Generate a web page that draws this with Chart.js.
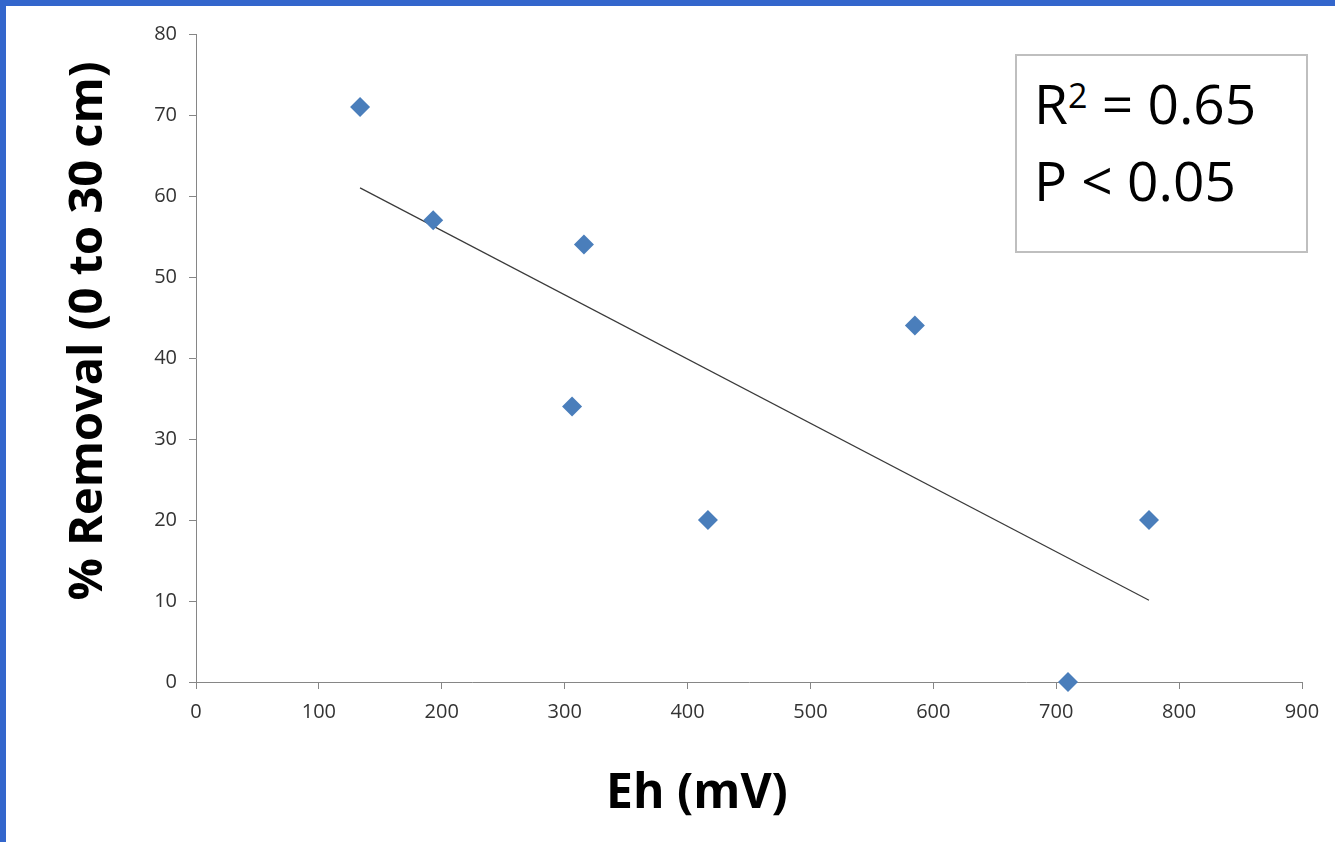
<!DOCTYPE html>
<html>
<head>
<meta charset="utf-8">
<script src="https://cdn.jsdelivr.net/npm/chart.js@4"></script>
<style>
  html, body { margin: 0; padding: 0; background: #ffffff; }
  body { width: 1335px; height: 842px; position: relative; overflow: hidden; }
  #wrap { position: absolute; left: 0; top: 0; width: 1335px; height: 842px; }
  #frame { position: absolute; left: 0; top: 0; width: 1335px; height: 842px; box-sizing: border-box;
           border-top: 6px solid #3366cc; border-left: 6px solid #3366cc; pointer-events: none; }
  .axtitle { position: absolute; font-family: "Open Sans", sans-serif; font-weight: 700; color: #000;
             white-space: nowrap; line-height: 1; }
  #ytitle { left: 84px; top: 331px; transform: translate(-50%, -50%) rotate(-90deg); font-size: 47px; }
  #xtitle { left: 697px; top: 790px; transform: translate(-50%, -50%); font-size: 48px; }
  #stats { position: absolute; left: 1015px; top: 54px; width: 293px; height: 199px; box-sizing: border-box;
           border: 2px solid #bfbfbf; background: #fff; font-family: "Open Sans", sans-serif;
           font-size: 55px; color: #000; padding: 8px 0 0 17px; line-height: 77px; white-space: nowrap; }
  #stats sup { font-size: 0.62em; line-height: 0; vertical-align: 0.46em; }
</style>
</head>
<body>
<div id="wrap"><canvas id="c" width="1335" height="842"></canvas></div>
<div id="frame"></div>
<div id="ytitle" class="axtitle">% Removal (0 to 30 cm)</div>
<div id="xtitle" class="axtitle">Eh (mV)</div>
<div id="stats"><div>R<sup>2</sup> = 0.65</div><div>P &lt; 0.05</div></div>
<script>
// ---- data ----
const ehValues = [133.5, 193, 315.7, 306, 416.6, 585, 709.6, 775.5];
const removalValues = [71, 57, 54, 34, 20, 44, 0, 20];
const trendEh = [133.5, 775.5];
const trendRemoval = [61.0, 10.1];
const xTickRange = [0, 900, 100];
const yTickRange = [0, 80, 10];

const points = ehValues.map((x, i) => ({ x: x, y: removalValues[i] }));
const trend = trendEh.map((x, i) => ({ x: x, y: trendRemoval[i] }));

const tickFont = { family: "Open Sans", size: 20 };
const axisColor = "#868686";

new Chart(document.getElementById("c"), {
  type: "scatter",
  data: {
    datasets: [
      {
        label: "Linear trend",
        data: trend,
        showLine: true,
        borderColor: "#3a3a3a",
        borderWidth: 1.2,
        pointRadius: 0,
        fill: false,
        order: 2
      },
      {
        label: "% Removal",
        data: points,
        pointStyle: "rectRot",
        pointRadius: 10,
        pointHoverRadius: 10,
        backgroundColor: "#4a7ebb",
        borderColor: "#4a7ebb",
        borderWidth: 0,
        clip: false,
        order: 1
      }
    ]
  },
  options: {
    responsive: false,
    animation: false,
    events: [],
    layout: { padding: { top: 34, right: 33, left: 0, bottom: 0 } },
    plugins: { legend: { display: false }, tooltip: { enabled: false } },
    scales: {
      x: {
        type: "linear",
        min: xTickRange[0], max: xTickRange[1],
        afterFit: (s) => { s.height = 160; },
        border: { display: true, color: axisColor, width: 1 },
        grid: { drawOnChartArea: false, drawTicks: true, tickLength: 7, color: axisColor },
        ticks: { stepSize: xTickRange[2], font: tickFont, color: "#333333", padding: 11, maxRotation: 0 }
      },
      y: {
        type: "linear",
        min: yTickRange[0], max: yTickRange[1],
        afterFit: (s) => { s.width = 196; },
        border: { display: true, color: axisColor, width: 1 },
        grid: { drawOnChartArea: false, drawTicks: true, tickLength: 7, color: axisColor },
        ticks: { stepSize: yTickRange[2], font: tickFont, color: "#333333", padding: 12 }
      }
    }
  }
});
</script>
</body>
</html>
